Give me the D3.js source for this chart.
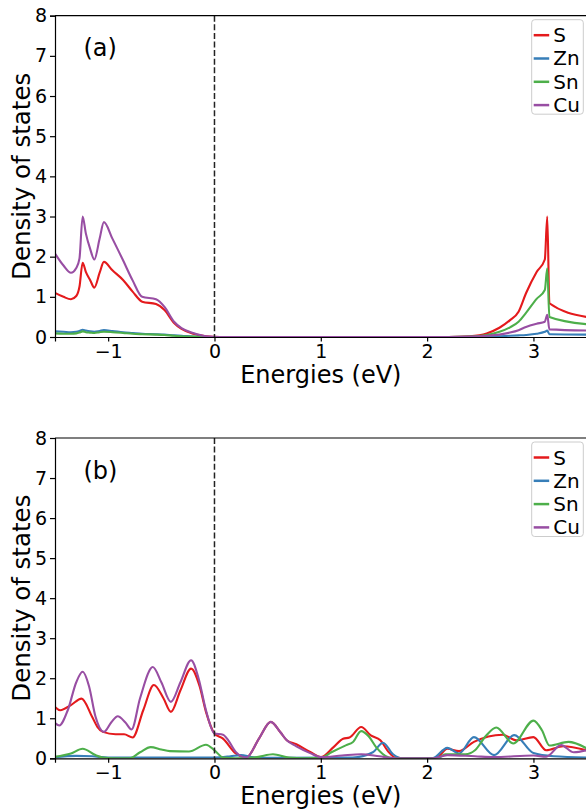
<!DOCTYPE html>
<html>
<head>
<meta charset="utf-8">
<script src="https://cdn.jsdelivr.net/npm/d3@7"></script>
<style>
  html, body { margin: 0; padding: 0; background: #fff; }
  svg { display: block; font-family: "DejaVu Sans", sans-serif; }
</style>
</head>
<body>
<svg id="chart" width="586" height="811"></svg>
<script>
// ---------- data ----------
const seriesNames = ["S", "Zn", "Sn", "Cu"];
const seriesColors = ["#e41a1c", "#377eb8", "#4daf4a", "#984ea3"];
const xTicks = [-1, 0, 1, 2, 3];
const yTicks = [0, 1, 2, 3, 4, 5, 6, 7, 8];
const panelLabels = ["(a)", "(b)"];

// Panel (a)
const energyA = [-1.50, -1.42, -1.35, -1.30, -1.27, -1.24, -1.21, -1.17, -1.13, -1.08, -1.04, -0.96, -0.86, -0.77, -0.68, -0.55, -0.47, -0.38, -0.31, -0.20, -0.08, 0.05, 2.20, 2.40, 2.56, 2.68, 2.78, 2.86, 2.93, 3.03, 3.107, 3.13, 3.15, 3.50];
const S_A  = [1.10, 1.00, 0.94, 1.02, 1.25, 1.85, 1.62, 1.42, 1.23, 1.60, 1.87, 1.66, 1.42, 1.13, 0.88, 0.82, 0.67, 0.35, 0.20, 0.08, 0.02, 0, 0, 0.02, 0.09, 0.23, 0.42, 0.63, 1.09, 1.62, 1.93, 3.00, 0.84, 0.50];
const Zn_A = [0.14, 0.13, 0.12, 0.13, 0.15, 0.18, 0.16, 0.14, 0.13, 0.15, 0.17, 0.15, 0.12, 0.10, 0.08, 0.07, 0.06, 0.04, 0.03, 0.01, 0, 0, 0, 0, 0.01, 0.02, 0.03, 0.04, 0.05, 0.08, 0.13, 0.16, 0.07, 0.06];
const Sn_A = [0.09, 0.08, 0.08, 0.09, 0.11, 0.14, 0.12, 0.11, 0.10, 0.12, 0.13, 0.12, 0.10, 0.08, 0.07, 0.06, 0.05, 0.03, 0.02, 0.01, 0, 0, 0, 0.01, 0.05, 0.13, 0.24, 0.38, 0.60, 0.95, 1.17, 1.71, 0.50, 0.32];
const Cu_A = [2.08, 1.78, 1.60, 1.72, 1.95, 3.00, 2.58, 2.20, 1.93, 2.45, 2.86, 2.45, 1.91, 1.41, 1.00, 0.94, 0.75, 0.38, 0.22, 0.10, 0.02, 0, 0, 0.01, 0.03, 0.06, 0.11, 0.17, 0.25, 0.33, 0.38, 0.55, 0.19, 0.16];

// Panel (b)
const energyB_S  = [-1.50, -1.45, -1.35, -1.25, -1.15, -1.10, -1.05, -0.93, -0.85, -0.77, -0.67, -0.57, -0.48, -0.41, -0.32, -0.22, -0.14, -0.08, 0.00, 0.08, 0.20, 0.30, 0.42, 0.53, 0.62, 0.68, 0.77, 0.90, 1.00, 1.12, 1.21, 1.27, 1.38, 1.47, 1.56, 1.64, 1.70, 1.80, 2.05, 2.10, 2.19, 2.30, 2.44, 2.71, 2.84, 3.00, 3.12, 3.28, 3.50];
const S_B        = [1.28, 1.20, 1.33, 1.49, 1.03, 0.78, 0.66, 0.60, 0.60, 0.52, 1.20, 1.83, 1.50, 1.16, 1.70, 2.24, 1.80, 1.16, 0.62, 0.49, 0.12, 0.02, 0.50, 0.91, 0.65, 0.45, 0.35, 0.16, 0.03, 0.28, 0.49, 0.52, 0.78, 0.57, 0.45, 0.15, 0.02, 0, 0, 0.03, 0.24, 0.18, 0.41, 0.59, 0.45, 0.53, 0.20, 0.30, 0.20];
const energyB_Zn = [-1.50, -1.30, -1.15, -1.00, -0.50, 0.00, 0.15, 0.25, 0.35, 0.50, 1.30, 1.49, 1.585, 1.68, 1.76, 2.05, 2.19, 2.30, 2.44, 2.63, 2.82, 3.00, 3.19, 3.50];
const Zn_B       = [0.03, 0.06, 0.05, 0.02, 0.02, 0.02, 0.05, 0.08, 0.03, 0.01, 0.02, 0.15, 0.39, 0.10, 0, 0, 0.26, 0.12, 0.53, 0.08, 0.58, 0.13, 0.05, 0.02];
const energyB_Sn = [-1.50, -1.35, -1.24, -1.12, -1.05, -0.95, -0.80, -0.70, -0.60, -0.50, -0.42, -0.24, -0.08, 0.00, 0.08, 0.20, 0.40, 0.55, 0.70, 0.85, 1.00, 1.10, 1.24, 1.30, 1.38, 1.45, 1.52, 1.64, 1.70, 2.10, 2.17, 2.36, 2.45, 2.55, 2.65, 2.81, 3.00, 3.08, 3.15, 3.33, 3.50];
const Sn_B       = [0.04, 0.12, 0.24, 0.08, 0.02, 0, 0, 0.15, 0.28, 0.22, 0.18, 0.17, 0.34, 0.20, 0.02, 0, 0.03, 0.10, 0.02, 0, 0.01, 0.15, 0.33, 0.40, 0.68, 0.55, 0.28, 0.02, 0, 0, 0.10, 0.10, 0.20, 0.55, 0.77, 0.37, 0.94, 0.70, 0.32, 0.41, 0.25];
const energyB_Cu = [-1.50, -1.46, -1.38, -1.30, -1.24, -1.18, -1.12, -1.04, -0.97, -0.91, -0.84, -0.78, -0.70, -0.58, -0.50, -0.41, -0.32, -0.22, -0.15, -0.08, 0.00, 0.08, 0.13, 0.20, 0.30, 0.42, 0.53, 0.62, 0.68, 0.77, 0.90, 1.00, 1.20, 1.38, 1.55, 1.70, 2.05, 2.19, 2.45, 2.63, 3.00, 3.12, 3.26, 3.38, 3.50];
const Cu_B       = [0.88, 0.82, 1.20, 1.90, 2.16, 1.80, 1.05, 0.66, 0.90, 1.05, 0.90, 0.72, 1.50, 2.28, 1.90, 1.41, 1.90, 2.45, 2.00, 1.20, 0.62, 0.59, 0.45, 0.16, 0.02, 0.50, 0.91, 0.65, 0.45, 0.30, 0.13, 0.03, 0.07, 0.10, 0.05, 0, 0, 0.08, 0.05, 0.03, 0.07, 0.04, 0.33, 0.15, 0.20];

// ---------- build ----------
const zip = (xs, ys) => xs.map((x, i) => [x, ys[i]]);
const panels = [
  { label: panelLabels[0], top: 15.7, bottom: 337,
    series: [zip(energyA, S_A), zip(energyA, Zn_A), zip(energyA, Sn_A), zip(energyA, Cu_A)] },
  { label: panelLabels[1], top: 438.0, bottom: 758.3,
    series: [zip(energyB_S, S_B), zip(energyB_Zn, Zn_B), zip(energyB_Sn, Sn_B), zip(energyB_Cu, Cu_B)] }
];

const svg = d3.select("#chart");
const left = 55, right = 586.6;
const x = d3.scaleLinear().domain([-1.5, 3.5]).range([left, right]);

panels.forEach((p, pi) => {
  const y = d3.scaleLinear().domain([0, 8]).range([p.bottom, p.top]);
  const g = svg.append("g");
  const clipId = "clip" + pi;
  svg.append("clipPath").attr("id", clipId)
    .append("rect").attr("x", left).attr("y", p.top)
    .attr("width", right - left).attr("height", p.bottom - p.top);

  const line = d3.line().x(d => x(d[0])).y(d => y(d[1])).curve(d3.curveMonotoneX);
  const plot = g.append("g").attr("clip-path", `url(#${clipId})`);
  p.series.forEach((s, i) => {
    plot.append("path").datum(s)
      .attr("d", line)
      .attr("fill", "none")
      .attr("stroke", seriesColors[i])
      .attr("stroke-width", 2.1)
      .attr("stroke-linejoin", "round");
  });

  // dashed zero line
  g.append("line")
    .attr("x1", x(0)).attr("x2", x(0))
    .attr("y1", p.top).attr("y2", p.bottom)
    .attr("stroke", "#222").attr("stroke-width", 1.5)
    .attr("stroke-dasharray", "6,2.6");

  // axes
  const xAxis = d3.axisBottom(x).tickValues(xTicks).tickSize(4.5).tickPadding(3)
    .tickFormat(d => d < 0 ? "\u2212" + Math.abs(d) : String(d));
  const yAxis = d3.axisLeft(y).tickValues(yTicks).tickSize(5).tickPadding(3)
    .tickFormat(d3.format("d"));
  const gx = g.append("g").attr("transform", `translate(0,${p.bottom})`).call(xAxis);
  const gy = g.append("g").attr("transform", `translate(${left},0)`).call(yAxis);
  [gx, gy].forEach(ax => {
    ax.select(".domain").attr("stroke", "#000").attr("stroke-width", 1.2);
    ax.selectAll(".tick line").attr("stroke", "#000").attr("stroke-width", 1.2);
    ax.selectAll(".tick text").attr("fill", "#000")
      .style("font-family", "'DejaVu Sans', sans-serif").style("font-size", "19px");
  });
  // top spine
  g.append("line").attr("x1", left).attr("x2", right)
    .attr("y1", p.top).attr("y2", p.top).attr("stroke", "#000").attr("stroke-width", 1.2);

  // axis labels
  g.append("text")
    .attr("x", (left + right) / 2).attr("y", p.bottom + 46)
    .attr("text-anchor", "middle").style("font-size", "24px").attr("fill", "#000")
    .text("Energies (eV)");
  g.append("text")
    .attr("transform", `translate(30,${(p.top + p.bottom) / 2}) rotate(-90)`)
    .attr("text-anchor", "middle").style("font-size", "24.5px").attr("fill", "#000")
    .text("Density of states");

  // panel label
  g.append("text").attr("x", 83.5).attr("y", p.top + 40.5)
    .style("font-size", "24px").attr("fill", "#000").text(p.label);

  // legend
  const lg = g.append("g").attr("transform", `translate(531.7,${p.top + 4})`);
  lg.append("rect").attr("x", 0).attr("y", 0).attr("width", 51.6).attr("height", 94.5)
    .attr("rx", 3).attr("fill", "#fff").attr("fill-opacity", 0.8)
    .attr("stroke", "#ccc").attr("stroke-width", 1);
  seriesNames.forEach((n, i) => {
    const cy = 15.5 + i * 23.3;
    lg.append("line").attr("x1", 2).attr("x2", 17.5).attr("y1", cy).attr("y2", cy)
      .attr("stroke", seriesColors[i]).attr("stroke-width", 2.5);
    lg.append("text").attr("x", 21.5).attr("y", cy + 7)
      .style("font-size", "20px").attr("fill", "#000").text(n);
  });
});
</script>
</body>
</html>
